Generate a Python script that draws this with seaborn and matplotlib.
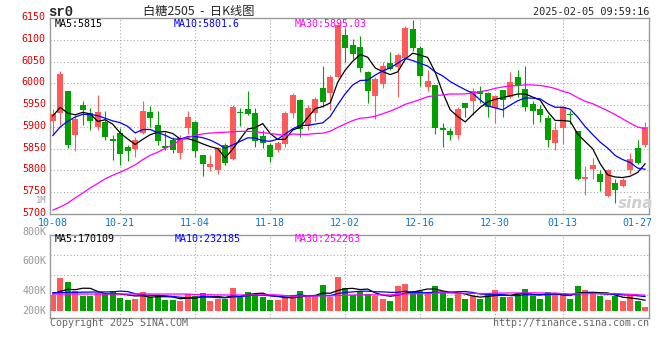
import numpy as np
import pandas as pd
import matplotlib
matplotlib.use("Agg")
import matplotlib.pyplot as plt
from matplotlib.transforms import ScaledTranslation
import seaborn as sns

# ---------------- data ----------------
start_day = "2024-10-08"
end_day = "2025-02-05"
holidays = ["2025-01-01", "2025-01-28", "2025-01-29", "2025-01-30",
            "2025-01-31", "2025-02-03", "2025-02-04"]

opens = [5913, 5932, 5983, 5882, 5951, 5932, 5901, 5911, 5873, 5886,
         5853, 5850, 5886, 5934, 5905, 5857, 5869, 5840, 5897, 5911,
         5836, 5809, 5800, 5859, 5827, 5935, 5942, 5933, 5880, 5858,
         5848, 5861, 5931, 5962, 5903, 5932, 5989, 5977, 6016, 6111,
         6089, 6084, 6026, 5972, 5999, 6047, 6037, 6058, 6125, 6081,
         5991, 5997, 5897, 5891, 5882, 5955, 5959, 5982, 5978, 5943,
         5985, 5970, 6014, 5988, 5953, 5942, 5920, 5863, 5897, 5930,
         5890, 5780, 5804, 5792, 5741, 5771, 5765, 5800, 5852, 5859]
closes = [5930, 6021, 5859, 5918, 5940, 5913, 5934, 5878, 5867, 5839,
          5844, 5871, 5937, 5920, 5868, 5852, 5848, 5874, 5924, 5844,
          5816, 5816, 5852, 5817, 5945, 5933, 5930, 5868, 5863, 5832,
          5864, 5932, 5974, 5896, 5943, 5965, 5957, 6015, 6134, 6082,
          6067, 6035, 5983, 6011, 6040, 6033, 6066, 6127, 6082, 6018,
          6006, 5897, 5894, 5882, 5942, 5943, 5983, 5975, 5945, 5972,
          5962, 6004, 5995, 5947, 5936, 5927, 5871, 5894, 5946, 5927,
          5781, 5784, 5812, 5773, 5800, 5756, 5778, 5827, 5817, 5901]
highs = [5942, 6029, 5983, 5928, 5959, 5943, 5974, 5937, 5882, 5897,
         5859, 5878, 5960, 5949, 5936, 5888, 5878, 5882, 5936, 5914,
         5836, 5835, 5855, 5863, 5951, 5943, 5983, 5943, 5894, 5863,
         5868, 5937, 5977, 5964, 5951, 5970, 6040, 6020, 6142, 6127,
         6102, 6109, 6028, 6016, 6049, 6072, 6069, 6131, 6146, 6087,
         6031, 5997, 5910, 5897, 5947, 5956, 5989, 5995, 5980, 5974,
         5986, 6027, 6031, 6039, 5959, 5951, 5928, 5911, 5949, 5936,
         5891, 5810, 5829, 5802, 5803, 5781, 5783, 5840, 5871, 5911]
lows = [5881, 5905, 5851, 5845, 5905, 5894, 5894, 5871, 5825, 5812,
        5822, 5832, 5884, 5901, 5859, 5848, 5841, 5827, 5884, 5832,
        5787, 5798, 5792, 5813, 5825, 5903, 5928, 5855, 5852, 5819,
        5842, 5853, 5920, 5878, 5893, 5914, 5947, 5938, 6012, 6050,
        6056, 6026, 5955, 5918, 5989, 6030, 5970, 6056, 6075, 5995,
        5983, 5885, 5855, 5871, 5873, 5924, 5928, 5955, 5924, 5909,
        5922, 5966, 5970, 5936, 5907, 5911, 5853, 5848, 5861, 5907,
        5779, 5743, 5781, 5752, 5740, 5725, 5761, 5792, 5816, 5853]
volumes_k = [248, 535, 470, 324, 243, 243, 281, 292, 324, 211,
             173, 194, 308, 216, 243, 173, 173, 162, 265, 243,
             292, 157, 194, 189, 373, 238, 308, 275, 227, 173,
             173, 216, 254, 324, 216, 227, 416, 227, 545, 367,
             254, 319, 270, 232, 189, 162, 400, 437, 319, 319,
             281, 400, 281, 211, 270, 194, 238, 189, 270, 335,
             227, 227, 286, 351, 238, 194, 302, 270, 270, 194,
             400, 335, 292, 238, 173, 235, 157, 232, 157, 68]

# moving-average values before a full window exists
ma5_head = [5925, 5945, 5932, 5928]
ma10_head = [5880, 5900, 5913, 5923, 5929, 5929, 5926, 5920, 5914]
ma30_head = [5709, 5716, 5725, 5737, 5748, 5760, 5770, 5781, 5789, 5796,
             5804, 5813, 5825, 5835, 5842, 5851, 5859, 5870, 5876, 5881,
             5884, 5886, 5887, 5888, 5889, 5890, 5890, 5889, 5887]
vma5_head = [270, 313, 346, 340]
vma10_head = [292, 294, 296, 298, 300, 302, 303, 304, 305]
vma30_head = [270] * 19 + [262, 260, 258, 256, 255, 255, 255, 255, 256, 257]

tick_labels = ["10-08", "10-21", "11-04", "11-18", "12-02",
               "12-16", "12-30", "01-13", "01-27"]
price_ticks = [6150, 6100, 6050, 6000, 5950, 5900, 5850, 5800, 5750, 5700]
vol_tick_labels = ["800K", "600K", "400K", "200K"]
price_ma_labels = ["MA5:5815", "MA10:5801.6", "MA30:5895.03"]
vol_ma_labels = ["MA5:170109", "MA10:232185", "MA30:252263"]
symbol = "sr0"
title = "白糖2505  -  日K线图"
timestamp = "2025-02-05 09:59:16"
copyright_text = "Copyright 2025 SINA.COM"
url_text = "http://finance.sina.com.cn"

# ---------------- derived ----------------
days = pd.bdate_range(start_day, end_day)
days = days[~days.isin(pd.to_datetime(holidays))]
day_labels = list(days.strftime("%m-%d"))
n = len(day_labels)
x = np.arange(n)
o = np.array(opens, float); c = np.array(closes, float)
h = np.array(highs, float); l = np.array(lows, float)
vol = np.array(volumes_k, float)

def ma(values, win, head):
    s = pd.Series(values).rolling(win).mean().to_numpy()
    s[:len(head)] = head
    return s

ma5 = ma(c, 5, ma5_head); ma10 = ma(c, 10, ma10_head); ma30 = ma(c, 30, ma30_head)
vma5 = ma(vol, 5, vma5_head); vma10 = ma(vol, 10, vma10_head); vma30 = ma(vol, 30, vma30_head)

RED = "#ff5a5a"; GREEN = "#00a000"
BLUE_TXT = "#0b76cf"; AX_RED = "#dd0000"; GRAY = "#999999"
up = c >= o
colors = np.where(up, RED, GREEN)

# ---------------- layout (pixels) ----------------
W, H = 660, 360
L_PX, R_PX = 50, 649
MAIN_TOP, MAIN_BOT = 18.2, 214.0
VOL_TOP, VOL_BOT, VOL_ZERO = 234.7, 318.3, 310.7
K_PER_PX = 16.2
MONO = "DejaVu Sans Mono"
FS = 7.2

sns.set_style("white")
plt.rcParams["font.family"] = [MONO, "Noto Sans CJK SC"]

fig = plt.figure(figsize=(W / 100, H / 100), dpi=100)
ax = fig.add_axes([L_PX / W, 1 - MAIN_BOT / H, (R_PX - L_PX) / W, (MAIN_BOT - MAIN_TOP) / H])
axv = fig.add_axes([L_PX / W, 1 - VOL_BOT / H, (R_PX - L_PX) / W, (VOL_BOT - VOL_TOP) / H])

def ftxt(xp, yp, s, **kw):
    kw.setdefault("va", "center")
    kw.setdefault("fontsize", FS)
    fig.text(xp / W, 1 - yp / H, s, **kw)

xlim = ((L_PX - 52.7) / 7.5, (R_PX - 52.7) / 7.5)
grid_kw = dict(color="#aaaaaa", lw=0.8, ls=(0, (1, 2)), zorder=0)
tick_pos = [day_labels.index(t) for t in tick_labels]

# ---------------- price panel ----------------
ax.vlines(x, l, h, colors=colors, lw=0.8, zorder=2)
body_lo = np.minimum(o, c)
body_h = np.maximum(np.abs(c - o), 2.3)
ax.bar(x, body_h, bottom=body_lo, width=0.76, color=colors, linewidth=0, zorder=3)
sns.lineplot(x=x, y=ma5, color="black", lw=0.9, ax=ax, zorder=4)
sns.lineplot(x=x, y=ma10, color="#0000ff", lw=0.9, ax=ax, zorder=4)
sns.lineplot(x=x, y=ma30, color="#ff00ff", lw=0.9, ax=ax, zorder=4)

ax.set_xlim(*xlim)
ax.set_ylim(5700, 6150)
for p in price_ticks[1:-1]:
    ax.axhline(p, **grid_kw)
for t in tick_pos[1:-1]:
    ax.axvline(t, **grid_kw)
ax.set_yticks(price_ticks)
ax.set_yticklabels([str(p) for p in price_ticks], color=AX_RED, fontsize=FS)
ax.set_xticks(tick_pos)
ax.set_xticklabels(tick_labels, color=BLUE_TXT, fontsize=FS)
ax.tick_params(axis="y", length=0, pad=3)
ax.tick_params(axis="x", length=0, pad=2.6)
up_shift = ScaledTranslation(0, 2.0 / 100, fig.dpi_scale_trans)
for lab in ax.get_yticklabels():
    lab.set_transform(lab.get_transform() + up_shift)
ax.set_xlabel(""); ax.set_ylabel("")
for sp in ax.spines.values():
    sp.set_color(GRAY); sp.set_linewidth(1.0)

# ---------------- volume panel ----------------
dfv = pd.DataFrame({"idx": x, "vol": vol, "dir": np.where(up, "up", "down")})
sns.barplot(data=dfv, x="idx", y="vol", hue="dir", palette={"up": RED, "down": GREEN},
            dodge=False, width=0.8, saturation=1, errorbar=None, legend=False,
            native_scale=True, linewidth=0, ax=axv, zorder=2)
sns.lineplot(x=x, y=vma5, color="black", lw=0.9, ax=axv, zorder=4)
sns.lineplot(x=x, y=vma10, color="#0000ff", lw=0.9, ax=axv, zorder=4)
sns.lineplot(x=x, y=vma30, color="#ff00ff", lw=0.9, ax=axv, zorder=4)
axv.set_xlim(*xlim)
axv.set_ylim(-(VOL_BOT - VOL_ZERO) * K_PER_PX, (VOL_ZERO - VOL_TOP) * K_PER_PX)
for ypx in (255.3, 275.3, 295.3):
    axv.axhline((VOL_ZERO - ypx) * K_PER_PX, **grid_kw)
for t in tick_pos[1:-1]:
    axv.axvline(t, **grid_kw)
axv.set_xticks([]); axv.set_yticks([])
axv.set_xlabel(""); axv.set_ylabel("")
for sp in axv.spines.values():
    sp.set_color(GRAY); sp.set_linewidth(1.0)

# ---------------- texts ----------------
ftxt(48, 12, symbol, fontsize=10, fontweight="bold", family=["Liberation Mono", MONO])
ftxt(199, 11.5, title, ha="center", fontsize=8.8, family=["Noto Sans CJK SC", MONO])
ftxt(649, 12, timestamp, ha="right", fontsize=7.4)
ftxt(55, 24, price_ma_labels[0], color="black")
ftxt(174, 24, price_ma_labels[1], color="#0000ff")
ftxt(295, 24, price_ma_labels[2], color="#ff00ff")
ftxt(46.7, 200.8, "1M", ha="right", color=GRAY, fontsize=6.3)
for lab, ypx in zip(vol_tick_labels, (231.5, 260.5, 290.5, 310.5)):
    ftxt(46.7, ypx, lab, ha="right", color=GRAY)
ftxt(55, 238.5, vol_ma_labels[0], color="black")
ftxt(175, 238.5, vol_ma_labels[1], color="#0000ff")
ftxt(295, 238.5, vol_ma_labels[2], color="#ff00ff")
ftxt(50, 323.5, copyright_text, color="#666666")
ftxt(649, 323.5, url_text, ha="right", color="#666666")
ftxt(636, 203, "sina", ha="center", fontsize=11, fontweight="bold", style="italic",
     color="#cfcfcf", family=["DejaVu Sans"])

fig.savefig("out.png", dpi=100)
